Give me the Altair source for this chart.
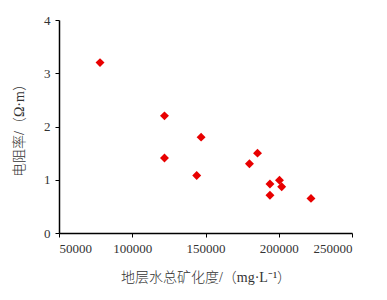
import altair as alt
import pandas as pd

tds = [78000, 122000, 122000, 147000, 144000, 180000, 185500, 194000, 200500, 202000, 194000, 222000]
resistivity = [3.2, 2.2, 1.41, 1.8, 1.08, 1.3, 1.5, 0.92, 0.99, 0.87, 0.71, 0.65]
x_ticks = [50000, 100000, 150000, 200000, 250000]
y_ticks = [0, 1, 2, 3, 4]

df = pd.DataFrame({"tds": tds, "res": resistivity})

chart = alt.Chart(df).mark_point(
    shape="diamond", filled=True, size=80, color="#e80000", opacity=1
).encode(
    x=alt.X("tds:Q", scale=alt.Scale(domain=[50000, 250000], nice=False, zero=False),
            axis=alt.Axis(values=x_ticks, format="d", title="地层水总矿化度/（mg·L⁻¹）",
                          titlePadding=15, labelPadding=5)),
    y=alt.Y("res:Q", scale=alt.Scale(domain=[0, 4], nice=False),
            axis=alt.Axis(values=y_ticks, format="d", title="电阻率/（Ω·m）",
                          titlePadding=17, labelPadding=5)),
).properties(
    width=293, height=213,
    background="white",
    autosize=alt.AutoSizeParams(type="none"),
    padding={"left": 59, "top": 20, "right": 35, "bottom": 67},
).configure_view(stroke=None).configure_axis(
    grid=False, domainColor="black", domainWidth=1.5, tickColor="black", tickSize=4,
    tickWidth=1, labelFont="Liberation Serif", labelFontSize=13, labelColor="#333333",
    titleFont="Liberation Serif, Noto Sans CJK SC", titleFontSize=14, titleFontWeight=300,
    titleColor="#333333",
)

chart.save("out.html", embed_options={"renderer": "svg", "actions": False})
